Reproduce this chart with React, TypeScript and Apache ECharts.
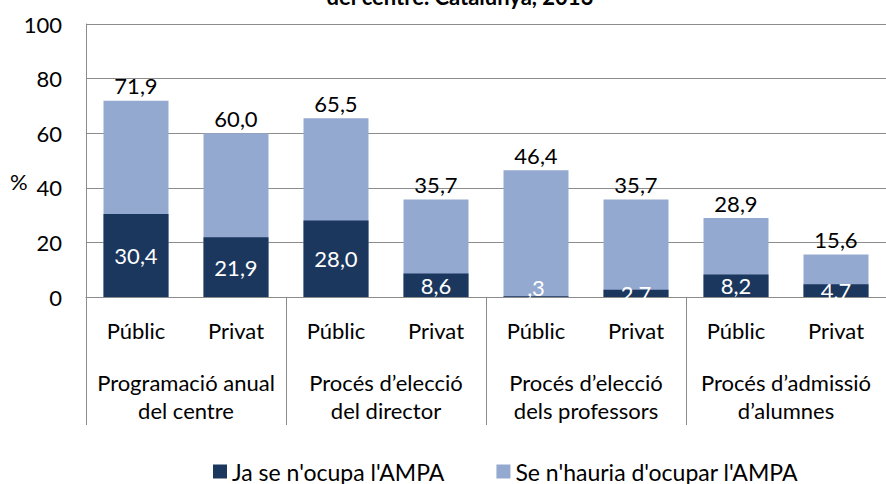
import React, { useEffect, useRef } from "react";
import * as echarts from "echarts";

const subCategories = ["Públic", "Privat", "Públic", "Privat", "Públic", "Privat", "Públic", "Privat"];
const groupLabels = [
  "Programació anual\ndel centre",
  "Procés d’elecció\ndel director",
  "Procés d’elecció\ndels professors",
  "Procés d’admissió\nd’alumnes",
];
const seriesNames = ["Ja se n'ocupa l'AMPA", "Se n'hauria d'ocupar l'AMPA"];
const alreadyValues = [30.4, 21.9, 28.0, 8.6, 0.3, 2.7, 8.2, 4.7];
const totalValues = [71.9, 60.0, 65.5, 35.7, 46.4, 35.7, 28.9, 15.6];
const yTicks = { min: 0, max: 100, interval: 20 };
const titleText = "del centre. Catalunya, 2013";

const FONT = "Lato, 'Liberation Sans', sans-serif";
const DARK = "#1B375E";
const LIGHT = "#94A9D0";
const GRIDC = "#8C8C8C";

function fmt(v: number): string {
  let s = v.toFixed(1).replace(".", ",");
  if (s.startsWith("0,")) s = s.slice(1);
  return s;
}

export default function App() {
  const ref = useRef<HTMLDivElement>(null);
  useEffect(() => {
    if (!ref.current) return;
    const chart = echarts.init(ref.current, null, { renderer: "svg" });
    chart.setOption({
      animation: false,
      backgroundColor: "#ffffff",
      textStyle: { fontFamily: FONT },
      grid: { left: 86, right: -12, top: 24, bottom: 187, containLabel: false },
      legend: {
        data: seriesNames,
        left: 208,
        top: 455,
        icon: "rect",
        itemWidth: 14,
        itemHeight: 14,
        itemGap: 52,
        textStyle: { fontSize: 23, color: "#000", fontFamily: FONT },
      },
      xAxis: [
        {
          type: "category",
          data: subCategories,
          position: "bottom",
          axisLine: { show: true, lineStyle: { color: GRIDC, width: 1 } },
          axisTick: { show: false },
          axisLabel: { fontSize: 22, color: "#000", margin: 22, fontFamily: FONT, interval: 0 },
        },
        {
          type: "category",
          data: groupLabels,
          position: "bottom",
          axisLine: { show: false },
          axisTick: { show: true, length: 128, interval: 0, lineStyle: { color: GRIDC, width: 1 } },
          axisLabel: { fontSize: 22, lineHeight: 28, color: "#000", margin: 71, fontFamily: FONT, interval: 0 },
        },
      ],
      yAxis: {
        type: "value",
        min: yTicks.min,
        max: yTicks.max,
        interval: yTicks.interval,
        axisLine: { show: true, lineStyle: { color: GRIDC, width: 1 } },
        axisTick: { show: false },
        splitLine: { show: true, lineStyle: { color: GRIDC, width: 1 } },
        axisLabel: { fontSize: 22, color: "#000", margin: 24, fontFamily: FONT },
      },
      graphic: [
        {
          type: "text",
          left: 10,
          top: 170,
          style: { text: "%", fontSize: 22, fontFamily: FONT, fill: "#000" },
        },
        {
          type: "text",
          x: 460,
          y: -4,
          style: {
            text: titleText,
            fontSize: 22,
            fontWeight: "bold",
            fontFamily: FONT,
            fill: "#000",
            align: "center",
            verticalAlign: "middle",
          },
        },
      ],
      series: [
        {
          name: seriesNames[1],
          type: "bar",
          xAxisIndex: 0,
          data: totalValues,
          barCategoryGap: "35%",
          barGap: "-100%",
          itemStyle: { color: LIGHT },
          label: {
            show: true,
            position: "top",
            distance: 4,
            fontSize: 22,
            color: "#000",
            fontFamily: FONT,
            formatter: (p: any) => fmt(p.value),
          },
          z: 2,
        },
        {
          name: seriesNames[0],
          type: "bar",
          xAxisIndex: 0,
          data: alreadyValues.map((v) => (v < 1 ? { value: v, label: { offset: [0, -9] } } : v)),
          barCategoryGap: "35%",
          barGap: "-100%",
          itemStyle: { color: DARK },
          label: {
            show: true,
            position: "inside",
            fontSize: 22,
            color: "#fff",
            fontFamily: FONT,
            formatter: (p: any) => fmt(p.value),
          },
          z: 3,
        },
      ],
    });
    return () => chart.dispose();
  }, []);
  return (
    <div
      ref={ref}
      style={{ position: "fixed", left: 0, top: 0, width: 886, height: 484, background: "#fff" }}
    />
  );
}
